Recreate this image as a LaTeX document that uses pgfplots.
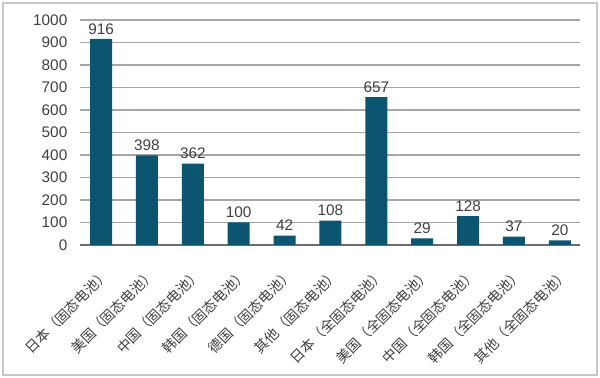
\documentclass[border=0pt]{standalone}
\usepackage{pgfplots}
\pgfplotsset{compat=1.18}
\usepackage{fontspec}
\setmainfont{Liberation Sans}
\newfontfamily\cjk{Noto Sans CJK SC}
\definecolor{barc}{HTML}{0C5571}
\definecolor{txt}{HTML}{404040}
\definecolor{gridc}{HTML}{A6A6A6}
\begin{document}
\begin{tikzpicture}
\path[use as bounding box, fill=white] (-60pt,-99.75pt) rectangle (390pt,183.75pt);
\draw[gray!45, line width=0.9pt] (-57.75pt,-97.5pt) rectangle (387.75pt,181.5pt);
\begin{axis}[
  at={(0pt,0pt)}, anchor=south west,
  scale only axis, width=375pt, height=168.75pt,
  xmin=-0.46, xmax=10.44, ymin=0, ymax=1000,
  ytick={0,100,...,1000},
  xtick={0,...,10},
  xticklabels={日本（固态电池）,美国（固态电池）,中国（固态电池）,韩国（固态电池）,德国（固态电池）,其他（固态电池）,日本（全固态电池）,美国（全固态电池）,中国（全固态电池）,韩国（全固态电池）,其他（全固态电池）},
  axis lines*=left,
  y axis line style={draw=none},
  x axis line style={draw=gray!85!black, line width=0.9pt},
  major tick length=0pt,
  tick style={draw=none},
  ymajorgrids, grid style={gridc, line width=0.9pt},
  /pgf/number format/assume math mode=true,
  /pgf/number format/1000 sep={},
  yticklabel style={font=\fontsize{11.5}{12}\selectfont, text=txt, xshift=-6pt},
  xticklabel style={font=\cjk\fontsize{10.5}{10.5}\selectfont, text=txt, rotate=45, anchor=north east, inner sep=0pt, yshift=-12pt, xshift=-11pt},
  ybar, bar width=16.5pt,
  nodes near coords,
  every node near coord/.append style={font=\fontsize{11.5}{12}\selectfont, text=txt},
  clip=false,
]
\addplot[fill=barc, draw=none] coordinates {
(0,916) (1,398) (2,362) (3,100) (4,42) (5,108) (6,657) (7,29) (8,128) (9,37) (10,20)
};
\end{axis}
\end{tikzpicture}
\end{document}
